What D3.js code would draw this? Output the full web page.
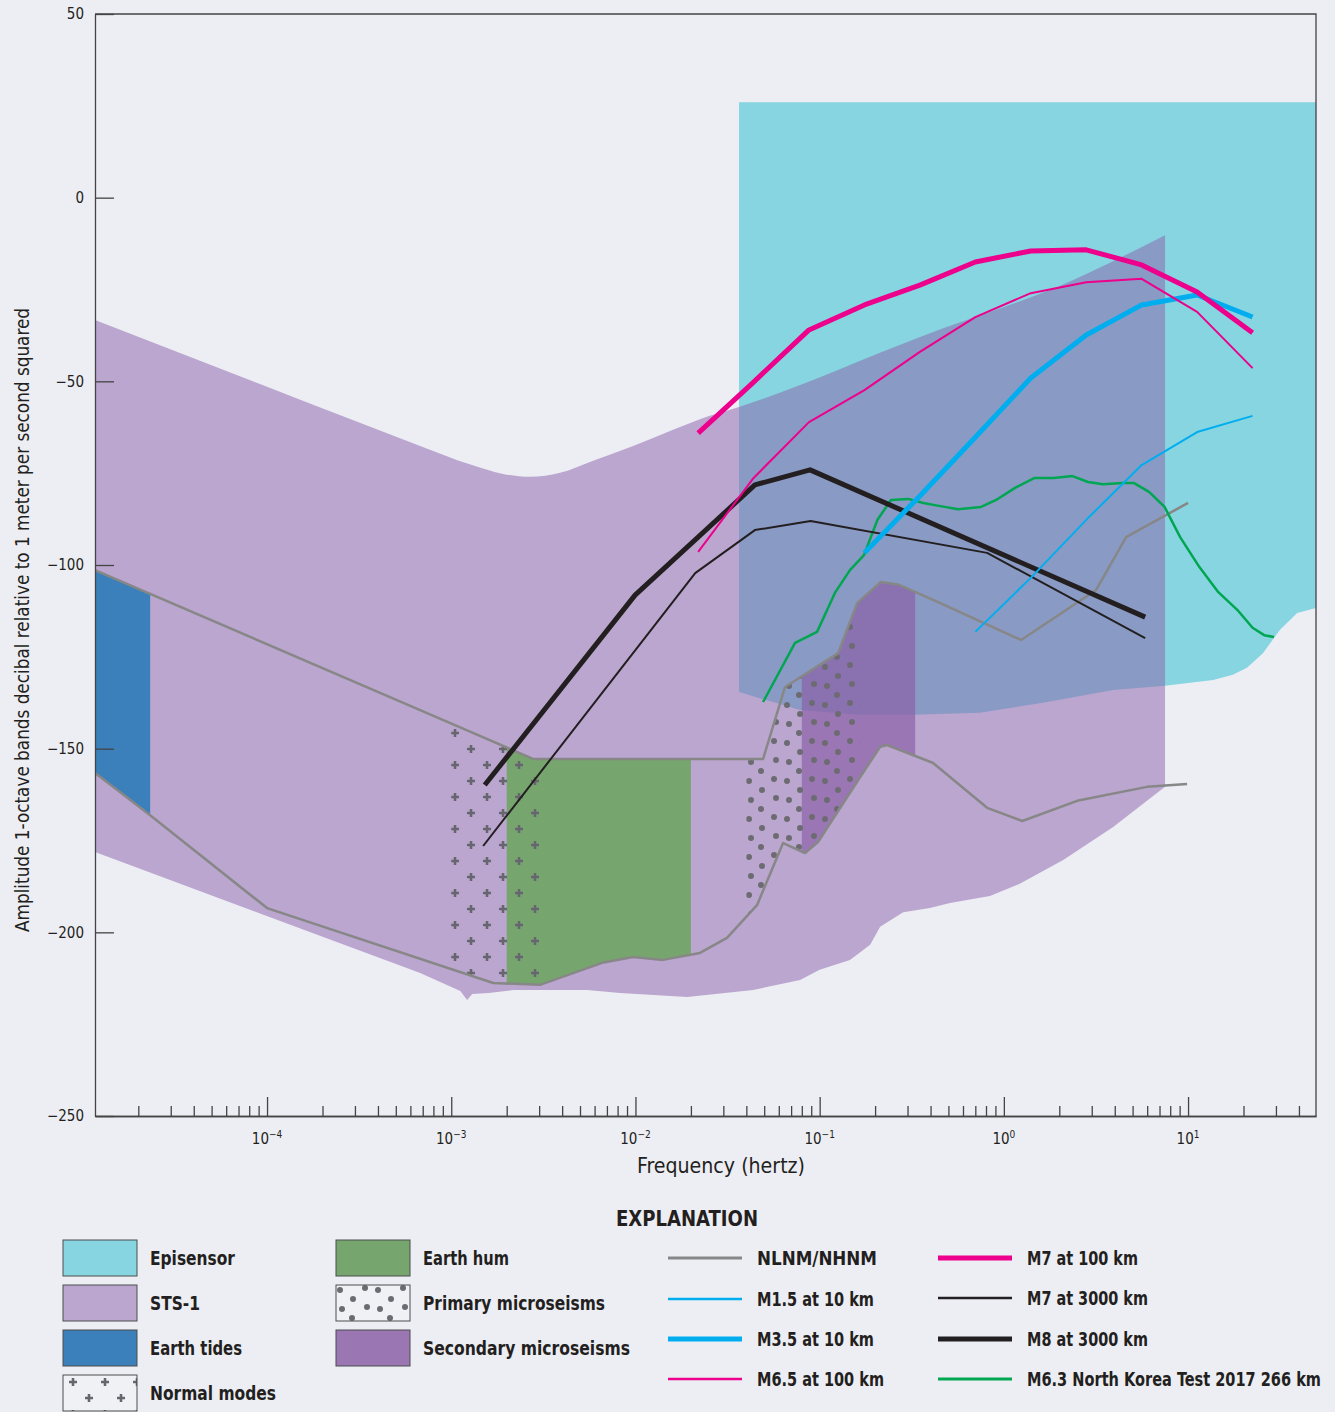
<!DOCTYPE html>
<html>
<head>
<meta charset="utf-8">
<script src="https://cdn.jsdelivr.net/npm/d3@7"></script>
<style>
body { margin: 0; background: #edeef4; }
svg { display: block; }
text { font-family: "Liberation Sans Narrow", "DejaVu Sans Condensed", "Roboto", sans-serif; fill: #231f20; }
</style>
</head>
<body>
<svg id="chart" width="1335" height="1412"></svg>
<script>
'use strict'
// all points are [frequency in hertz, amplitude in dB]
const stsUpper = [[1.164e-5, -33.3], [1e-4, -51.5], [6.78e-4, -67.6], [1.26e-3, -72.6], [1.91e-3, -75.2], [2.68e-3, -76.0],
    [3.9e-3, -74.9], [5.89e-3, -71.6], [9.71e-3, -67.6], [0.016, -63.2], [0.0224, -60.3], [0.0365, -57.0],
    [0.351, -37.9], [2.38, -22.4], [7.5, -10.2]];
const stsLower = [[7.5, -160.4], [3.92, -171.3], [2.10, -180.3], [1.22, -186.8], [0.84, -190.1], [0.51, -192.0],
    [0.397, -193.4], [0.284, -194.5], [0.213, -198.5], [0.188, -203.4], [0.146, -207.5], [0.1, -210.2],
    [0.0783, -213.0], [0.0435, -215.7], [0.0191, -217.6], [8.24e-3, -216.5], [5.46e-3, -215.7], [2.17e-3, -215.7],
    [1.6e-3, -216.5], [1.3e-3, -216.8], [1.22e-3, -218.4], [1.12e-3, -216.0], [6.78e-4, -211.1], [1.164e-5, -178.1]];
const episensorTop = 26;
const episensorLower = [[49.5, -111.7], [39.1, -113.1], [31.5, -117.7], [25.5, -124.0], [20.9, -128.0], [17.5, -129.9],
    [13.7, -131.3], [7.5, -132.9], [3.92, -134.0], [1.72, -137.3], [0.74, -140.2], [0.32, -140.8], [0.164, -140.8],
    [0.0783, -139.5], [0.0365, -134.6]];

const nhnm = [[1.164e-5, -101.4], [6.78e-4, -139.5], [2.78e-3, -152.8], [0.0493, -152.8], [0.0649, -133.2], [0.126, -124.0],
    [0.160, -110.3], [0.215, -104.6], [0.270, -105.4], [0.413, -109.5], [1.24, -120.4], [3.17, -106.8], [4.61, -92.4], [10.0, -83.1]];
const nlnm = [[1.164e-5, -156.6], [2.32e-5, -168.1], [1e-4, -193.4], [1.69e-3, -213.8], [3.03e-3, -214.3], [6.59e-3, -208.3],
    [9.71e-3, -206.7], [0.0141, -207.5], [0.0224, -205.6], [0.0314, -201.5], [0.0457, -192.6], [0.0633, -175.7],
    [0.0833, -178.4], [0.098, -175.4], [0.166, -157.7], [0.213, -149.5], [0.232, -149.0], [0.413, -153.9], [0.811, -166.1],
    [1.26, -169.7], [2.50, -164.2], [5.98, -160.4], [9.88, -159.6]];

// frequency bands [from, to] in hertz
const earthTides = [1.164e-5, 2.32e-5];
const normalModes = [1e-3, 3e-3];
const earthHum = [2e-3, 2e-2];
const primaryMicro = [0.04, 0.166];
const secondaryMicro = [0.08, 0.33];

// 1-octave band centres for the modelled earthquakes
const bandFreq = [0.0219, 0.0438, 0.0875, 0.175, 0.35, 0.7, 1.4, 2.8, 5.6, 11.2, 22.4];
const m7at100 = [-64.1, -50.2, -36.0, -29.2, -23.8, -17.5, -14.5, -14.2, -18.3, -25.7, -36.8];
const m65at100 = [-96.4, -76.3, -61.1, -52.4, -42.0, -32.5, -26.0, -23.0, -22.1, -31.1, -46.4];
const m35at10 = [null, null, null, -96.7, -81.2, -65.2, -49.1, -37.4, -29.2, -26.5, -32.5];
const m15at10 = [null, null, null, null, null, -118.2, -103.5, -87.7, -72.8, -63.8, -59.4];

const m8Freq = [1.52e-3, 9.95e-3, 0.0445, 0.0887, 5.85];
const m8at3000 = [-159.9, -108.2, -78.2, -74.1, -114.2];
const m7Freq = [1.49e-3, 0.0211, 0.0445, 0.0893, 0.811, 5.85];
const m7at3000 = [-176.5, -102.2, -90.5, -88.0, -96.7, -119.9];

const nkFreq = [0.0493, 0.0735, 0.0968, 0.121, 0.146, 0.174, 0.206, 0.244, 0.302, 0.366, 0.444, 0.564, 0.752, 0.908,
    1.15, 1.47, 1.86, 2.36, 2.86, 3.46, 4.41, 5.09, 6.14, 7.46, 9.06, 11.5, 14.6, 18.5, 22.4, 25.9, 29.3];
const nkTest = [-137.3, -121.2, -118.2, -107.6, -101.4, -97.3, -87.7, -82.3, -82.0, -83.1, -83.9, -84.8, -84.2, -82.3,
    -79.0, -76.3, -76.3, -75.8, -77.4, -78.0, -77.7, -77.7, -80.1, -84.2, -92.4, -100.5, -107.4, -112.2, -117.1, -119.1, -119.6];

const yTicks = [50, 0, -50, -100, -150, -200, -250];
const xDecades = [-4, -3, -2, -1, 0, 1];

const colors = {
    episensor: "#87d5e0", sts: "#bba6cf", tides: "#3b80bb", hum: "#76a66e", secondary: "#9a76b3",
    grey: "#878787", cyan: "#00aeef", magenta: "#ec008c", black: "#231f20", green: "#00a651"
};

const plot = { left: 95, right: 1316, top: 14, bottom: 1116 };
const x = d3.scaleLog().domain([1.164e-5, 49.5]).range([plot.left, plot.right]);
const y = d3.scaleLinear().domain([-250, 50]).range([plot.bottom, plot.top]);
const svg = d3.select("#chart");
const defs = svg.append("defs");

const line = d3.line().defined(d => d[1] != null).x(d => x(d[0])).y(d => y(d[1]));
const smooth = d3.line().x(d => x(d[0])).y(d => y(d[1])).curve(d3.curveMonotoneX);
const zip = (f, v) => f.map((d, i) => [d, v[i]]);

// plus and dot patterns
function plusPattern(id, ox, oy) {
    let p = defs.append("pattern").attr("id", id).attr("patternUnits", "userSpaceOnUse")
        .attr("width", 32).attr("height", 32).attr("x", ox).attr("y", oy);
    p.selectAll("path").data([[8, 8], [24, 24]]).join("path")
        .attr("d", d => `M${d[0] - 4},${d[1]}h8M${d[0]},${d[1] - 4}v8`)
        .attr("stroke", "#67656e").attr("stroke-width", 2.6);
}
function dotPattern(id, ox, oy) {
    let p = defs.append("pattern").attr("id", id).attr("patternUnits", "userSpaceOnUse")
        .attr("width", 38).attr("height", 38).attr("x", ox).attr("y", oy);
    p.selectAll("circle").data([[4, 5], [17, 14], [29, 3], [6, 24], [16, 33], [31, 22]])
        .join("circle").attr("cx", d => d[0]).attr("cy", d => d[1]).attr("r", 3).attr("fill", "#6d6b72");
}
plusPattern("plusPat", 447, 725);
plusPattern("plusLeg", 65, 1374);
dotPattern("dotPat", 745, 700);
dotPattern("dotLeg", 70, 1285);

defs.append("clipPath").attr("id", "plotClip").append("rect")
    .attr("x", plot.left).attr("y", plot.top).attr("width", plot.right - plot.left).attr("height", plot.bottom - plot.top);
defs.append("clipPath").attr("id", "noiseClip").append("path")
    .attr("d", line(nhnm.concat(nlnm.slice().reverse())) + "Z");

let g = svg.append("g").attr("clip-path", "url(#plotClip)");

// Episensor
let epi = [[0.0365, episensorTop], [49.5, episensorTop]].concat(episensorLower);
g.append("path").attr("d", line(epi) + "Z").attr("fill", colors.episensor);

// STS-1 (semi transparent so the overlap with Episensor turns blue-grey)
g.append("path").attr("d", smooth(stsUpper) + line(stsLower).replace("M", "L") + "Z")
    .attr("fill", "rgb(140,97,171)").attr("fill-opacity", 0.515);

// bands between the noise models
let bands = g.append("g").attr("clip-path", "url(#noiseClip)");
function band(r, fill, opacity) {
    bands.append("rect").attr("x", x(r[0])).attr("width", x(r[1]) - x(r[0]))
        .attr("y", plot.top).attr("height", plot.bottom - plot.top)
        .attr("fill", fill).attr("fill-opacity", opacity);
}
band(earthTides, colors.tides, 1);
band(earthHum, colors.hum, 1);
band(secondaryMicro, "rgb(138,93,166)", 0.66);
band(normalModes, "url(#plusPat)", 1);
band(primaryMicro, "url(#dotPat)", 1);

// noise models
[nhnm, nlnm].forEach(d => {
    g.append("path").attr("d", line(d)).attr("fill", "none")
        .attr("stroke", colors.grey).attr("stroke-width", 2.5).attr("stroke-linejoin", "round");
});

// earthquakes
const curves = [
    { pts: zip(nkFreq, nkTest), color: colors.green, w: 2.5 },
    { pts: zip(m7Freq, m7at3000), color: colors.black, w: 2 },
    { pts: zip(m8Freq, m8at3000), color: colors.black, w: 5 },
    { pts: zip(bandFreq, m15at10), color: colors.cyan, w: 2 },
    { pts: zip(bandFreq, m35at10), color: colors.cyan, w: 5 },
    { pts: zip(bandFreq, m65at100), color: colors.magenta, w: 2 },
    { pts: zip(bandFreq, m7at100), color: colors.magenta, w: 5 }
];
g.selectAll(".curve").data(curves).join("path").attr("class", "curve")
    .attr("d", d => line(d.pts)).attr("fill", "none")
    .attr("stroke", d => d.color).attr("stroke-width", d => d.w).attr("stroke-linejoin", "round");

// axes
let yAxis = svg.append("g").attr("transform", `translate(${plot.left},0)`)
    .call(d3.axisLeft(y).tickValues(yTicks).tickSize(-19).tickSizeOuter(0).tickPadding(11));
yAxis.selectAll("text").style("font-size", "15px").attr("fill", "#333");

let majors = xDecades.map(e => Math.pow(10, e));
let minors = [];
for (let e = -5; e <= 1; e++) for (let m = 2; m <= 9; m++) {
    let v = m * Math.pow(10, e);
    if (v > x.domain()[0] && v < x.domain()[1]) minors.push(v);
}
svg.append("g").attr("transform", `translate(0,${plot.bottom})`)
    .call(d3.axisBottom(x).tickValues(minors).tickSize(-10).tickSizeOuter(0).tickFormat(""));
svg.append("g").attr("transform", `translate(0,${plot.bottom})`)
    .call(d3.axisBottom(x).tickValues(majors).tickSize(-19).tickSizeOuter(0).tickFormat(""));
svg.selectAll(".domain, .tick line").attr("stroke", "#444").attr("stroke-width", 1.3);

let xl = svg.append("g").selectAll("text").data(xDecades).join("text")
    .attr("x", d => x(Math.pow(10, d))).attr("y", 1144).attr("text-anchor", "middle")
    .style("font-size", "15px").attr("fill", "#333");
xl.append("tspan").text("10");
xl.append("tspan").text(d => d3.format("")(d)).attr("dy", -6).style("font-size", "10px");

// frame
svg.append("path").attr("d", `M${plot.left},${plot.top}H${plot.right}V${plot.bottom}`)
    .attr("fill", "none").attr("stroke", "#444").attr("stroke-width", 1.3);

svg.append("text").attr("x", 721).attr("y", 1173).attr("text-anchor", "middle")
    .style("font-size", "21px").attr("fill", "#333")
    .attr("textLength", 168).attr("lengthAdjust", "spacingAndGlyphs").text("Frequency (hertz)");
svg.append("text").attr("transform", "translate(29,620) rotate(-90)").attr("text-anchor", "middle")
    .style("font-size", "19px").attr("fill", "#333")
    .attr("textLength", 624).attr("lengthAdjust", "spacingAndGlyphs")
    .text("Amplitude 1-octave bands decibal relative to 1 meter per second squared");

// legend
svg.append("text").attr("x", 687).attr("y", 1226).attr("text-anchor", "middle")
    .style("font-size", "21px").style("font-weight", "bold")
    .attr("textLength", 142).attr("lengthAdjust", "spacingAndGlyphs").text("EXPLANATION");

// legend labels are squeezed horizontally to look like a condensed face
const squeeze = 0.8;

const boxItems = [
    { label: "Episensor", tl: 85, fill: colors.episensor, x: 63, y: 1240 },
    { label: "STS-1", tl: 50, fill: colors.sts, x: 63, y: 1285 },
    { label: "Earth tides", tl: 92, fill: colors.tides, x: 63, y: 1330 },
    { label: "Normal modes", tl: 126, fill: "url(#plusLeg)", x: 63, y: 1375 },
    { label: "Earth hum", tl: 86, fill: colors.hum, x: 336, y: 1240 },
    { label: "Primary microseisms", tl: 182, fill: "url(#dotLeg)", x: 336, y: 1285 },
    { label: "Secondary microseisms", tl: 207, fill: colors.secondary, x: 336, y: 1330 }
];
let bi = svg.append("g").selectAll("g").data(boxItems).join("g");
bi.append("rect").attr("x", d => d.x).attr("y", d => d.y).attr("width", 74).attr("height", 36)
    .attr("fill", d => d.fill.startsWith("url") ? "#f0f1f5" : d.fill);
bi.filter(d => d.fill.startsWith("url")).append("rect").attr("x", d => d.x).attr("y", d => d.y)
    .attr("width", 74).attr("height", 36).attr("fill", d => d.fill);
bi.append("rect").attr("x", d => d.x).attr("y", d => d.y).attr("width", 74).attr("height", 36)
    .attr("fill", "none").attr("stroke", "#4d4d4d").attr("stroke-width", 1);
bi.append("text").attr("transform", d => `translate(${d.x + 87},${d.y + 25}) scale(${squeeze},1)`)
    .style("font-size", "20px").style("font-weight", "bold")
    .attr("textLength", d => d.tl / squeeze).attr("lengthAdjust", "spacingAndGlyphs").text(d => d.label);

const lineItems = [
    { label: "NLNM/NHNM", tl: 120, color: colors.grey, w: 3, x: 668, y: 1258 },
    { label: "M1.5 at 10 km", tl: 117, color: colors.cyan, w: 2.5, x: 668, y: 1299 },
    { label: "M3.5 at 10 km", tl: 117, color: colors.cyan, w: 5, x: 668, y: 1339 },
    { label: "M6.5 at 100 km", tl: 127, color: colors.magenta, w: 2.5, x: 668, y: 1379 },
    { label: "M7 at 100 km", tl: 111, color: colors.magenta, w: 5, x: 938, y: 1258 },
    { label: "M7 at 3000 km", tl: 121, color: colors.black, w: 2.5, x: 938, y: 1298 },
    { label: "M8 at 3000 km", tl: 121, color: colors.black, w: 5, x: 938, y: 1339 },
    { label: "M6.3 North Korea Test 2017 266 km", tl: 294, color: colors.green, w: 3, x: 938, y: 1379 }
];
let li = svg.append("g").selectAll("g").data(lineItems).join("g");
li.append("line").attr("x1", d => d.x).attr("x2", d => d.x + 74).attr("y1", d => d.y).attr("y2", d => d.y)
    .attr("stroke", d => d.color).attr("stroke-width", d => d.w);
li.append("text").attr("transform", d => `translate(${d.x + 89},${d.y + 7}) scale(${squeeze},1)`)
    .style("font-size", "19px").style("font-weight", "bold")
    .attr("textLength", d => d.tl / squeeze).attr("lengthAdjust", "spacingAndGlyphs").text(d => d.label);
</script>
</body>
</html>
